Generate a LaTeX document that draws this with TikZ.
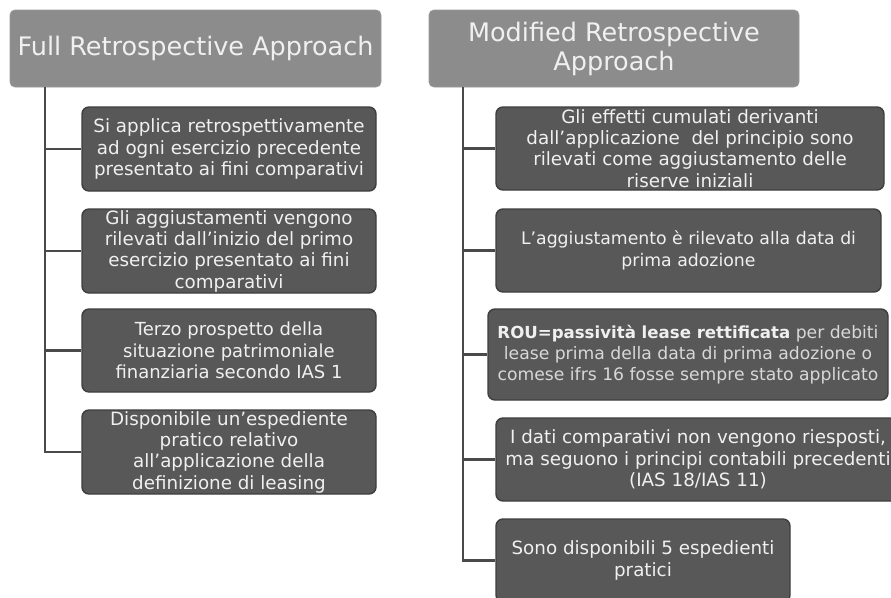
\documentclass[tikz,border=0pt]{standalone}
\usepackage{fontspec}
\setmainfont{DejaVu Sans}
\definecolor{hdrfill}{HTML}{8C8C8C}
\definecolor{hdrline}{HTML}{9A9A9A}
\definecolor{boxfill}{HTML}{585858}
\definecolor{boxline}{HTML}{3E3E3E}
\definecolor{boxtext}{HTML}{F0F0F0}
\definecolor{softtext}{HTML}{D8D8D8}
\definecolor{connline}{HTML}{4A4A4A}
\newcommand{\fs}[1]{\fontsize{#1}{21.3}\selectfont}
\begin{document}
\begin{tikzpicture}[x=1pt,y=-1pt,
  hdr/.style={draw=hdrline, fill=hdrfill, rounded corners=5pt, line width=0.8pt,
    text=boxtext, align=center, inner sep=0pt, minimum width=#1, minimum height=77pt,
    font=\fontsize{25.5}{29}\selectfont},
  itembox/.style={draw=boxline, fill=boxfill, rounded corners=7pt, line width=1.4pt,
    text=boxtext, align=center, inner sep=0pt, font=\fs{18.3}},
  conn/.style={draw=connline, line width=2.8pt}]
\useasboundingbox (0,0) rectangle (891,597);
\clip (0,0) rectangle (891,597);
\fill[white] (0,0) rectangle (891,597);

% Left column
\node[hdr=371pt] (lh) at (195.5,48.5) {Full Retrospective Approach};
\coordinate (ltrunk) at (45,87);
\node[itembox, minimum width=294pt, minimum height=84pt] (lb1) at (229,149)
  {Si applica retrospettivamente\\ad ogni esercizio precedente\\presentato ai fini comparativi};
\node[itembox, minimum width=294pt, minimum height=84pt] (lb2) at (229,251)
  {Gli aggiustamenti vengono\\rilevati dall’inizio del primo\\esercizio presentato ai fini\\comparativi};
\node[itembox, minimum width=294pt, minimum height=83pt, font=\fs{18}] (lb3) at (229,350.5)
  {Terzo prospetto della\\situazione patrimoniale\\finanziaria secondo IAS 1};
\node[itembox, minimum width=294pt, minimum height=84pt] (lb4) at (229,452)
  {Disponibile un’espediente\\pratico relativo\\all’applicazione della\\definizione di leasing};
\foreach \b in {lb1,lb2,lb3,lb4} \draw[conn] (ltrunk) |- (\b.west);

% Right column
\node[hdr=370pt] (rh) at (614,48.5) {Modified Retrospective\\Approach};
\coordinate (rtrunk) at (463,87);
\node[itembox, minimum width=388pt, minimum height=83pt] (rb1) at (690,148.5)
  {Gli effetti cumulati derivanti\\dall’applicazione\ \ del principio sono\\rilevati come aggiustamento delle\\riserve iniziali};
\node[itembox, minimum width=385pt, minimum height=83pt, font=\fs{17.3}] (rb2) at (688.5,250.5)
  {L’aggiustamento è rilevato alla data di\\prima adozione};
\node[itembox, minimum width=400pt, minimum height=91pt, font=\fs{17.2}] (rb3) at (688,354.5)
  {{\fs{16.6}\textbf{ROU=passività lease rettificata}} \textcolor{softtext}{per debiti}\\
   \textcolor{softtext}{lease prima della data di prima adozione o}\\
   \textcolor{softtext}{comese ifrs 16 fosse sempre stato applicato}};
\node[itembox, minimum width=404pt, minimum height=83pt] (rb4) at (698,459.5)
  {I dati comparativi non vengono riesposti,\\ma seguono i principi contabili precedenti\\(IAS 18/IAS 11)};
\node[itembox, minimum width=294pt, minimum height=83pt] (rb5) at (643,560.5)
  {Sono disponibili 5 espedienti\\pratici};
\foreach \b in {rb1,rb2,rb3,rb4,rb5} \draw[conn] (rtrunk) |- (\b.west);
\end{tikzpicture}
\end{document}
